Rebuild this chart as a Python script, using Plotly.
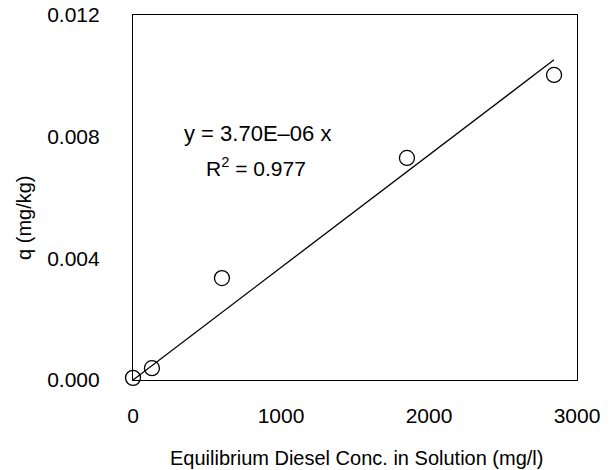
import plotly.graph_objects as go

# Equilibrium diesel concentration (mg/l) and sorbed amount q (mg/kg)
conc = [0, 128, 601, 1851, 2845]
q = [0.00007, 0.00039, 0.00335, 0.0073, 0.01003]

slope = 3.70e-06
r2 = 0.977

x_ticks = [0, 1000, 2000, 3000]
y_ticks = [0.000, 0.004, 0.008, 0.012]
y_tick_text = ["0.000", "0.004", "0.008", "0.012"]

font_family = "Liberation Sans, Arial, Helvetica, sans-serif"

fit_x = [0, max(conc)]
fit_y = [slope * v for v in fit_x]

fig = go.Figure()
fig.add_trace(go.Scatter(
    x=fit_x, y=fit_y, mode="lines",
    line=dict(color="black", width=1.3),
    showlegend=False, cliponaxis=False,
))
fig.add_trace(go.Scatter(
    x=conc, y=q, mode="markers",
    marker=dict(symbol="circle-open", size=15, color="black",
                line=dict(color="black", width=1.3)),
    showlegend=False, cliponaxis=False,
))

# regression equation and fit quality
fig.add_annotation(
    x=838, y=0.0081, xref="x", yref="y", showarrow=False,
    text="y = %.2fE\u201306 x" % (slope * 1e6),
    font=dict(family=font_family, size=22, color="black"),
)
fig.add_annotation(
    x=830, y=0.0070, xref="x", yref="y", showarrow=False,
    text="R<sup>2</sup> = %.3f" % r2,
    font=dict(family=font_family, size=21, color="black"),
)

# axis titles placed as free text
fig.add_annotation(
    x=-0.2455, y=0.444, xref="paper", yref="paper", showarrow=False,
    xanchor="center", yanchor="middle", textangle=-90,
    text="q (mg/kg)",
    font=dict(family=font_family, size=20, color="black"),
)
fig.add_annotation(
    x=0.503, y=-0.2137, xref="paper", yref="paper", showarrow=False,
    xanchor="center", yanchor="middle",
    text="Equilibrium Diesel Conc. in Solution (mg/l)",
    font=dict(family=font_family, size=20, color="black"),
)

fig.update_xaxes(
    range=[0, 3000], tickvals=x_ticks, ticktext=[str(v) for v in x_ticks],
    showgrid=False, zeroline=False, showline=True, mirror=True,
    linecolor="black", linewidth=1.2, ticks="", ticklabelstandoff=17,
    tickfont=dict(family=font_family, size=21, color="black"),
    automargin=False,
)
fig.update_yaxes(
    range=[0, 0.012], tickvals=y_ticks, ticktext=y_tick_text,
    showgrid=False, zeroline=False, showline=True, mirror=True,
    linecolor="black", linewidth=1.2, ticks="", ticklabelstandoff=28,
    tickfont=dict(family=font_family, size=21, color="black"),
    automargin=False,
)

fig.update_layout(
    width=614, height=470,
    margin=dict(l=133, r=37, t=15, b=90),
    paper_bgcolor="white", plot_bgcolor="white",
)

fig.write_html("out.html")
